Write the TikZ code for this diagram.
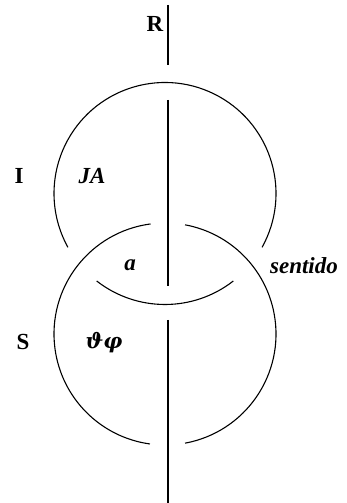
\documentclass[tikz,border=0pt]{standalone}
\usepackage{fontspec}
\setmainfont{Liberation Serif}
\newfontfamily\grk{DejaVu Serif}
\begin{document}
\begin{tikzpicture}[x=1pt,y=1pt,
  ring/.style={line width=1.1pt,black},
  axis/.style={line width=1.3pt,black},
  lab/.style={font=\fontsize{23}{26}\selectfont\bfseries,inner sep=0pt},
  ilab/.style={font=\fontsize{23}{26}\selectfont\bfseries\itshape,inner sep=0pt}]
\useasboundingbox (0,0) rectangle (346,503);
% centres
\coordinate (U) at (165,309.5);
\coordinate (L) at (165,169);
% vertical line R
\coordinate (r1) at (168,498);
\coordinate (r2) at (168,438);
\coordinate (r3) at (168,403);
\coordinate (r4) at (168,217);
\coordinate (r5) at (168,183);
\coordinate (r6) at (168,0);
\draw[axis] (r1) -- (r2);
\draw[axis] (r3) -- (r4);
\draw[axis] (r5) -- (r6);
% upper circle (I)
\draw[ring] ([shift={(-29:111)}]U) arc[start angle=-29,end angle=209,radius=111];
\draw[ring] ([shift={(232:111)}]U) arc[start angle=232,end angle=308,radius=111];
% lower circle (S)
\draw[ring] ([shift={(97.5:111)}]L) arc[start angle=97.5,end angle=262.2,radius=111];
\draw[ring] ([shift={(-79.6:111)}]L) arc[start angle=-79.6,end angle=79.6,radius=111];
% labels
\node[lab] (R) at (155,479) {R};
\node[lab] (I) at (19,327) {I};
\node[ilab] (JA) at (92,327) {JA};
\node[ilab] (a) at (130,238) {a};
\node[ilab] (sentido) at (304,237) {sentido};
\node[lab] (S) at (23,161) {S};
\node[font=\fontsize{21}{26}\selectfont\grk\bfseries\itshape,inner sep=0pt] (Jphi) at (104,160) {ϑφ};
\end{tikzpicture}
\end{document}
